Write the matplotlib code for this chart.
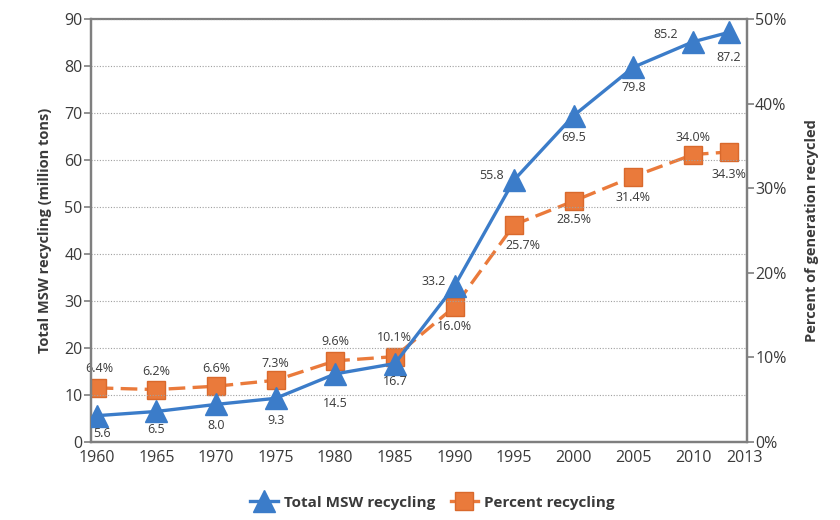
import matplotlib
matplotlib.use("Agg")
import matplotlib.pyplot as plt
import matplotlib.font_manager as fm
from matplotlib.lines import Line2D

years = [1960, 1965, 1970, 1975, 1980, 1985, 1990, 1995, 2000, 2005, 2010, 2013]
total_msw = [5.6, 6.5, 8.0, 9.3, 14.5, 16.7, 33.2, 55.8, 69.5, 79.8, 85.2, 87.2]
pct_recycled = [6.4, 6.2, 6.6, 7.3, 9.6, 10.1, 16.0, 25.7, 28.5, 31.4, 34.0, 34.3]
year_ticks = [1960, 1965, 1970, 1975, 1980, 1985, 1990, 1995, 2000, 2005, 2010]

# label offsets in points (dx, dy) per point
total_offsets = [(4, -13), (0, -13), (0, -15), (0, -16), (0, -21), (0, -13),
                 (-15, 3), (-16, 3), (0, -16), (0, -15), (-20, 5), (0, -18)]
pct_offsets = [(2, 14), (0, 13), (0, 13), (0, 12), (0, 14), (0, 14),
               (0, -14), (6, -15), (0, -13), (0, -15), (0, 12), (0, -16)]


def pick_font():
    available = {f.name for f in fm.fontManager.ttflist}
    for name in ("Open Sans", "Noto Sans", "DejaVu Sans"):
        if name in available:
            return name
    return "sans-serif"


FONT = pick_font()
plt.rcParams["font.family"] = FONT

BLUE = "#3b7cc9"
ORANGE = "#ea7a3b"
ORANGE_EDGE = "#d9692c"
GREY = "#7f7f7f"
TEXT = "#3a3a3a"

fig = plt.figure(figsize=(8.4, 5.2), dpi=100)
ax = fig.add_axes([0.108, 0.15, 0.781, 0.813])
ax2 = ax.twinx()

ax.set_xlim(1959.5, 2014.5)
ax.set_ylim(0, 90)
ax2.set_ylim(0, 50)

ax2.plot(years, pct_recycled, color=ORANGE, linewidth=2.4, linestyle=(0, (5, 2.2)),
         marker="s", markersize=12.5, markerfacecolor=ORANGE,
         markeredgecolor=ORANGE_EDGE, zorder=2)
ax.plot(years, total_msw, color=BLUE, linewidth=2.4, marker="^",
        markersize=15.5, markeredgecolor=BLUE, zorder=3)

# keep blue series on top of the twin axes
ax.set_zorder(ax2.get_zorder() + 1)
ax.patch.set_visible(False)

for x, y, (dx, dy) in zip(years, total_msw, total_offsets):
    ax.annotate(f"{y:.1f}", xy=(x, y), xytext=(dx, dy), textcoords="offset points",
                ha="center", va="center", fontsize=9, color=TEXT)
for x, y, (dx, dy) in zip(years, pct_recycled, pct_offsets):
    ax2.annotate(f"{y:.1f}%", xy=(x, y), xytext=(dx, dy), textcoords="offset points",
                 ha="center", va="center", fontsize=9, color=TEXT)

ax.set_yticks(range(0, 91, 10))
ax2.set_yticks(range(0, 51, 10))
ax2.set_yticklabels([f"{v}%" for v in range(0, 51, 10)])
ax.set_xticks(year_ticks + [2014.3])
ax.set_xticklabels([str(y) for y in year_ticks] + ["2013"])

ax.grid(True, axis="y", linestyle=(0, (1, 1.5)), linewidth=0.8, color="#a0a0a0")
ax.tick_params(axis="y", labelsize=11.5, labelcolor=TEXT, color=GREY, length=5, width=1.2, pad=1)
ax.tick_params(axis="x", labelsize=11.5, labelcolor=TEXT, length=0, pad=6)
ax2.tick_params(axis="y", labelsize=11.5, labelcolor=TEXT, color=GREY, length=5, width=1.2, pad=1)

for a in (ax, ax2):
    for side in ("left", "bottom", "right", "top"):
        a.spines[side].set_color(GREY)
        a.spines[side].set_linewidth(1.6)
ax.spines["top"].set_linewidth(1.2)

ax.set_ylabel("Total MSW recycling (million tons)", fontsize=10.5, fontweight="bold",
              color=TEXT, labelpad=9)
ax2.set_ylabel("Percent of generation recycled", fontsize=10.5, fontweight="bold",
               color=TEXT, labelpad=13)

handles = [
    Line2D([], [], color=BLUE, linewidth=2.4, marker="^", markersize=15.5),
    Line2D([], [], color=ORANGE, linewidth=2.4, marker="s", markersize=12.5,
           markeredgecolor=ORANGE_EDGE),
]
leg = fig.legend(handles, ["Total MSW recycling", "Percent recycling"],
                 loc="center", bbox_to_anchor=(0.515, 0.033), ncol=2, frameon=False,
                 handlelength=1.8, columnspacing=1.0, handletextpad=0.4,
                 prop={"size": 11, "weight": "bold"})
for t in leg.get_texts():
    t.set_color(TEXT)

fig.savefig("out.png", dpi=100, facecolor="white")
